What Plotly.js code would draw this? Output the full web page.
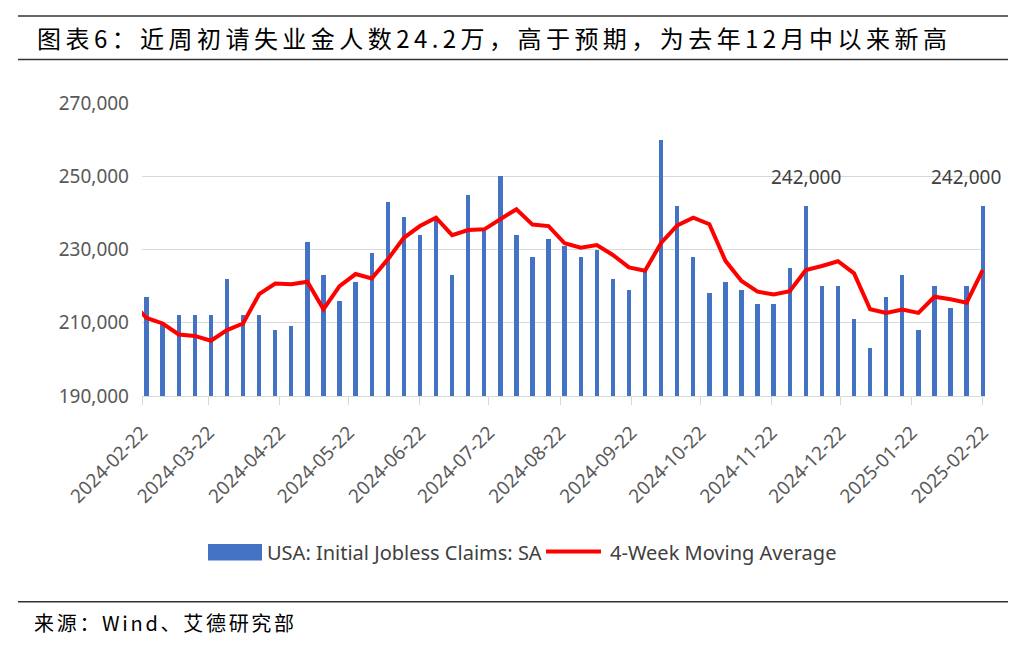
<!DOCTYPE html>
<html>
<head>
<meta charset="utf-8">
<script src="https://cdn.plot.ly/plotly-3.0.1.min.js"></script>
<style>
  html, body { margin: 0; padding: 0; background: #ffffff; }
  #wrap { position: relative; width: 1023px; height: 650px; }
  #chart { position: absolute; left: 0; top: 0; width: 1023px; height: 650px; }
  .caption { position: absolute; white-space: nowrap; color: #000000;
             font-family: "Noto Sans CJK SC", sans-serif; }
  #title { left: 37px; top: 23px; font-size: 24px; line-height: 30px; letter-spacing: 4.45px; }
  #source { left: 34px; top: 610px; font-size: 20px; line-height: 26px; letter-spacing: 2.7px; }
</style>
</head>
<body>
<div id="wrap">
  <div id="chart"></div>
  <div id="title" class="caption"></div>
  <div id="source" class="caption"></div>
</div>
<script>
// ---------- data ----------
const weeks = [
  '2024-02-24','2024-03-02','2024-03-09','2024-03-16','2024-03-23','2024-03-30',
  '2024-04-06','2024-04-13','2024-04-20','2024-04-27','2024-05-04','2024-05-11',
  '2024-05-18','2024-05-25','2024-06-01','2024-06-08','2024-06-15','2024-06-22',
  '2024-06-29','2024-07-06','2024-07-13','2024-07-20','2024-07-27','2024-08-03',
  '2024-08-10','2024-08-17','2024-08-24','2024-08-31','2024-09-07','2024-09-14',
  '2024-09-21','2024-09-28','2024-10-05','2024-10-12','2024-10-19','2024-10-26',
  '2024-11-02','2024-11-09','2024-11-16','2024-11-23','2024-11-30','2024-12-07',
  '2024-12-14','2024-12-21','2024-12-28','2025-01-04','2025-01-11','2025-01-18',
  '2025-01-25','2025-02-01','2025-02-08','2025-02-15','2025-02-22'
];
const claims = [
  217000,210000,212000,212000,212000,222000,
  212000,212000,208000,209000,232000,223000,
  216000,221000,229000,243000,239000,234000,
  238000,223000,245000,235000,250000,234000,
  228000,233000,231000,228000,230000,222000,
  219000,224000,260000,242000,228000,218000,
  221000,219000,215000,215000,225000,242000,
  220000,220000,211000,203000,217000,223000,
  208000,220000,214000,220000,242000
];
// 4-week moving average; the first point (week before the axis start) is clipped by the plot edge
const maWeeks = ['2024-02-17'].concat(weeks);
const movingAvg = [
  216000,
  211300,209800,206800,206400,205100,208000,
  209800,217800,220700,220500,221200,213700,
  220000,223300,222100,227300,233200,236400,
  238700,233900,235300,235500,238200,241000,
  236800,236400,231700,230500,231200,228500,
  225100,224200,231800,236600,238700,236900,
  226900,221400,218500,217700,218600,224400,
  225500,226800,223500,213700,212700,213600,
  212700,217100,216400,215500,224400
];
const tickDates = [
  '2024-02-22','2024-03-22','2024-04-22','2024-05-22','2024-06-22','2024-07-22',
  '2024-08-22','2024-09-22','2024-10-22','2024-11-22','2024-12-22','2025-01-22','2025-02-22'
];
const yTicks = [190000, 210000, 230000, 250000, 270000];
const labelIndices = [41, 52];
const seriesNames = ['USA: Initial Jobless Claims: SA', '4-Week Moving Average'];
const titleText = '图表6：近周初请失业金人数24.2万，高于预期，为去年12月中以来新高';
const sourceText = '来源：Wind、艾德研究部';

document.getElementById('title').textContent = titleText;
document.getElementById('source').textContent = sourceText;

// ---------- layout helpers ----------
const W = 1023, H = 650;
const M = { l: 142, r: 38, t: 103, b: 254 };
const pw = W - M.l - M.r, ph = H - M.t - M.b;
const px = v => (v - M.l) / pw;          // pixel x -> paper x
const py = v => (H - M.b - v) / ph;      // pixel y -> paper y

const BLUE = '#4472C4', RED = '#FF0000';
const latin = 'Noto Sans, Open Sans, sans-serif';
const fmt = v => v.toLocaleString('en-US');

const traces = [
  {
    type: 'bar', x: weeks, y: claims, name: seriesNames[0],
    marker: { color: BLUE }, width: 1.9 * 86400000,
    showlegend: false, hoverinfo: 'x+y'
  },
  {
    type: 'scatter', mode: 'lines', x: maWeeks, y: movingAvg, name: seriesNames[1],
    line: { color: RED, width: 4, shape: 'linear' },
    showlegend: false, hoverinfo: 'x+y'
  }
];

const annotations = [
  { xref: 'paper', yref: 'paper', x: px(265), y: py(552), xanchor: 'left', yanchor: 'middle',
    text: seriesNames[0], showarrow: false, font: { family: latin, size: 20, color: '#404040' } },
  { xref: 'paper', yref: 'paper', x: px(608), y: py(552), xanchor: 'left', yanchor: 'middle',
    text: seriesNames[1], showarrow: false, font: { family: latin, size: 20, color: '#404040' } }
];
labelIndices.forEach(i => {
  const isLast = i === weeks.length - 1;   // keep the last label inside the chart, as the original does
  annotations.push({
    x: weeks[i], y: claims[i], xref: 'x', yref: 'y', text: fmt(claims[i]),
    showarrow: false, yanchor: 'bottom', yshift: 14,
    xanchor: isLast ? 'right' : 'center', xshift: isLast ? 20 : 0,
    font: { family: latin, size: 19, color: '#404040' }
  });
});

const shapes = [
  { type: 'line', xref: 'paper', yref: 'paper', x0: px(18), x1: px(1008), y0: py(16), y1: py(16),
    line: { color: '#333333', width: 1.5 } },
  { type: 'line', xref: 'paper', yref: 'paper', x0: px(18), x1: px(1008), y0: py(59.5), y1: py(59.5),
    line: { color: '#333333', width: 1.5 } },
  { type: 'line', xref: 'paper', yref: 'paper', x0: px(18), x1: px(1008), y0: py(601.7), y1: py(601.7),
    line: { color: '#333333', width: 1.5 } },
  // legend symbols
  { type: 'rect', xref: 'paper', yref: 'paper', x0: px(208), x1: px(262), y0: py(560.5), y1: py(544),
    fillcolor: BLUE, line: { width: 0 } },
  { type: 'line', xref: 'paper', yref: 'paper', x0: px(546), x1: px(601), y0: py(551.5), y1: py(551.5),
    line: { color: RED, width: 4 } }
];

const layout = {
  width: W, height: H,
  margin: M,
  paper_bgcolor: 'rgba(0,0,0,0)', plot_bgcolor: 'rgba(0,0,0,0)',
  showlegend: false,
  bargap: 0,
  xaxis: {
    type: 'date',
    range: ['2024-02-22', '2025-02-23'],
    tickmode: 'array', tickvals: tickDates, ticktext: tickDates,
    tickangle: -45,
    tickfont: { family: latin, size: 19, color: '#595959' },
    ticklabelstandoff: 9,
    showgrid: false, zeroline: false,
    showline: true, linecolor: '#d9d9d9', linewidth: 1,
    ticks: 'outside', ticklen: 8, tickcolor: '#d9d9d9', tickwidth: 1,
    fixedrange: true
  },
  yaxis: {
    range: [190000, 270000],
    tickmode: 'array', tickvals: yTicks, ticktext: yTicks.map(fmt),
    tickfont: { family: latin, size: 19, color: '#595959' },
    showgrid: true, gridcolor: '#d9d9d9', gridwidth: 1,
    zeroline: false, showline: false, ticks: '',
    ticklabelstandoff: 12,
    fixedrange: true
  },
  annotations: annotations,
  shapes: shapes
};

Plotly.newPlot('chart', traces, layout, { displayModeBar: false, staticPlot: true });
</script>
</body>
</html>
